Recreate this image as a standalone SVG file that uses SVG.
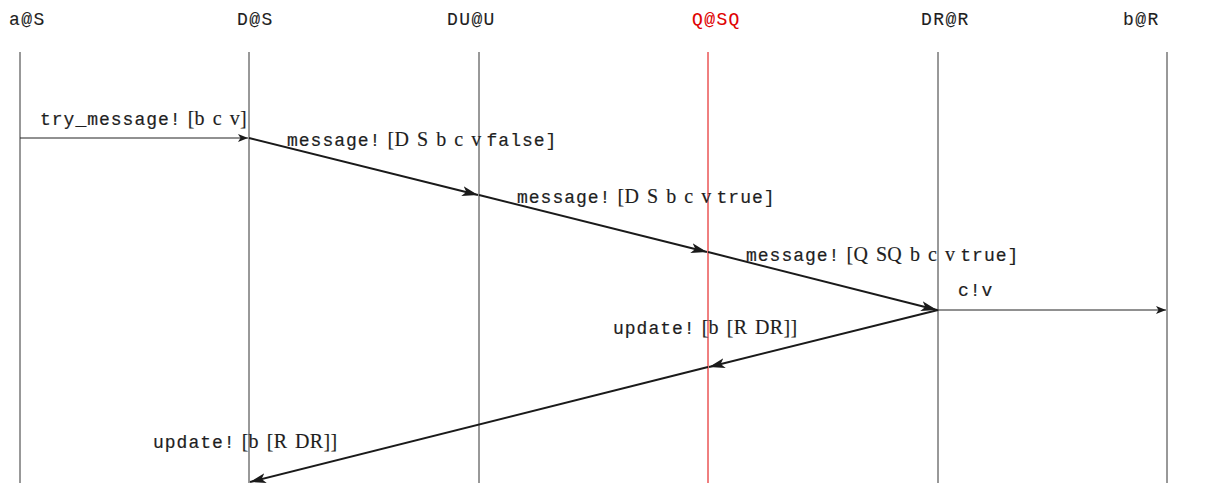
<svg xmlns="http://www.w3.org/2000/svg" width="1213" height="483" viewBox="0 0 1213 483">
  <style>
    .tt { font-family: "Liberation Mono", "DejaVu Sans Mono", monospace; font-size: 18px; letter-spacing: 1px; fill: #1e1e1e; stroke: #1e1e1e; stroke-width: 0.2; }
    .hd { letter-spacing: 1.4px; stroke-width: 0.1; }
    .rm { font-family: "Liberation Serif", "DejaVu Serif", serif; font-size: 20px; letter-spacing: 0.3px; word-spacing: 2.5px; stroke-width: 0.15; }
    .life { stroke: #333; stroke-width: 1; }
    .thin { stroke: #222; stroke-width: 1; fill: none; }
    .thick { stroke: #1a1a1a; stroke-width: 2; fill: none; }
  </style>
  <defs>
    <marker id="ah" viewBox="0 0 10 8" refX="10" refY="4" markerWidth="10" markerHeight="8" markerUnits="userSpaceOnUse" orient="auto">
      <path d="M0,0 L10,4 L0,8 L2.5,4 Z" fill="#1a1a1a"/>
    </marker>
    <marker id="ahb" viewBox="0 0 16 10" refX="16" refY="5" markerWidth="16" markerHeight="10" markerUnits="userSpaceOnUse" orient="auto">
      <path d="M0,0 L16,5 L0,10 L4,5 Z" fill="#1a1a1a"/>
    </marker>
  </defs>

  <!-- lifelines with their headers -->
  <g id="node-aS">
    <text class="tt hd" x="9" y="25">a@S</text>
    <line class="life" x1="20" y1="52" x2="20" y2="483"/>
  </g>
  <g id="node-DS">
    <text class="tt hd" x="237" y="25">D@S</text>
    <line class="life" x1="249" y1="52" x2="249" y2="483"/>
  </g>
  <g id="node-DUU">
    <text class="tt hd" x="447" y="25">DU@U</text>
    <line class="life" x1="479" y1="52" x2="479" y2="483"/>
  </g>
  <g id="node-QSQ">
    <text class="tt hd" x="692" y="25" style="fill:#e00000;stroke:#e00000">Q@SQ</text>
    <line x1="708" y1="52" x2="708" y2="483" stroke="#e00000" stroke-width="1"/>
  </g>
  <g id="node-DRR">
    <text class="tt hd" x="921" y="25">DR@R</text>
    <line class="life" x1="938" y1="52" x2="938" y2="483"/>
  </g>
  <g id="node-bR">
    <text class="tt hd" x="1123" y="25">b@R</text>
    <line class="life" x1="1167" y1="52" x2="1167" y2="483"/>
  </g>

  <!-- messages -->
  <g id="connectors">
    <line class="thin" x1="20" y1="138" x2="248" y2="138" marker-end="url(#ah)"/>
    <line class="thick" x1="249" y1="138" x2="478" y2="195" marker-end="url(#ahb)"/>
    <line class="thick" x1="479" y1="195" x2="707" y2="252" marker-end="url(#ahb)"/>
    <line class="thick" x1="708" y1="252" x2="937" y2="310" marker-end="url(#ahb)"/>
    <line class="thin" x1="938" y1="310" x2="1166" y2="310" marker-end="url(#ah)"/>
    <line class="thick" x1="938" y1="310" x2="709" y2="367" marker-end="url(#ahb)"/>
    <line class="thick" x1="708" y1="367" x2="250" y2="482" marker-end="url(#ahb)"/>
  </g>

  <!-- message labels -->
  <g id="labels">
    <text class="tt" x="40" y="125">try_message!<tspan class="rm" dx="6">[b c v]</tspan></text>
    <text class="tt" x="287" y="146">message!<tspan class="rm" dx="6">[D S b c v</tspan><tspan dx="5">false]</tspan></text>
    <text class="tt" x="517" y="203">message!<tspan class="rm" dx="6">[D S b c v</tspan><tspan dx="5">true]</tspan></text>
    <text class="tt" x="746" y="261">message!<tspan class="rm" dx="6">[Q SQ b c v</tspan><tspan dx="5">true]</tspan></text>
    <text class="tt" x="958" y="296">c!v</text>
    <text class="tt" x="613" y="334">update!<tspan class="rm" dx="6">[b [R DR]]</tspan></text>
    <text class="tt" x="153" y="448">update!<tspan class="rm" dx="6">[b [R DR]]</tspan></text>
  </g>
</svg>
